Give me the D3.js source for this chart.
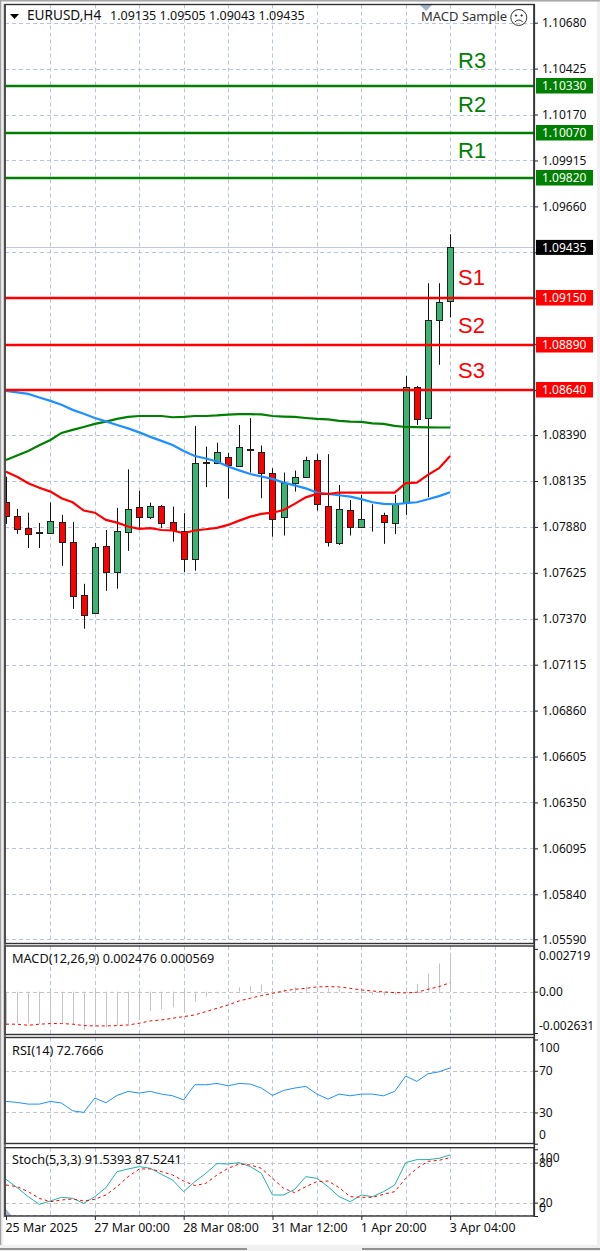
<!DOCTYPE html>
<html><head><meta charset="utf-8">
<script src="https://cdn.jsdelivr.net/npm/d3@7/dist/d3.min.js"></script>
<style>
html,body{margin:0;padding:0;background:#f0f0f0;overflow:hidden}
svg{display:block}
text{font-family:"Noto Sans",sans-serif;font-size:12px;fill:#111}
</style></head><body>
<script>
const opens=[1.08021,1.07943,1.07875,1.07852,1.07848,1.07906,1.07797,1.07504,1.07401,1.07775,1.07632,1.07856,1.07989,1.07934,1.07997,1.07906,1.07858,1.07704,1.08237,1.08239,1.08267,1.08219,1.08310,1.08298,1.08182,1.07934,1.08123,1.08158,1.08252,1.07997,1.07795,1.07974,1.07882,1.07940,1.07945,1.07904,1.08017,1.08659,1.08484,1.09030,1.09135];
const highs=[1.08159,1.07980,1.07959,1.07902,1.08015,1.07947,1.07908,1.07564,1.07791,1.07863,1.07986,1.08200,1.08080,1.08015,1.08002,1.07993,1.07956,1.08441,1.08326,1.08348,1.08291,1.08446,1.08484,1.08332,1.08206,1.08182,1.08193,1.08270,1.08284,1.08284,1.08113,1.08030,1.08058,1.08006,1.07959,1.08058,1.08719,1.08663,1.09233,1.09233,1.09505];
const lows=[1.07897,1.07841,1.07763,1.07763,1.07841,1.07664,1.07425,1.07315,1.07397,1.07525,1.07537,1.07747,1.07875,1.07923,1.07875,1.07798,1.07630,1.07637,1.08101,1.08235,1.08037,1.08219,1.08182,1.08039,1.07826,1.07832,1.08076,1.08156,1.07971,1.07771,1.07780,1.07832,1.07878,1.07854,1.07786,1.07840,1.07947,1.08446,1.08045,1.08780,1.09043];
const closes=[1.07943,1.07873,1.07841,1.07849,1.07913,1.07795,1.07497,1.07395,1.07767,1.07632,1.07860,1.07982,1.07934,1.07997,1.07904,1.07863,1.07704,1.08237,1.08241,1.08298,1.08220,1.08323,1.08313,1.08182,1.07928,1.08123,1.08159,1.08252,1.08006,1.07795,1.07982,1.07882,1.07926,1.07942,1.07904,1.08008,1.08659,1.08481,1.09030,1.09131,1.09435];
const maGreen=[1.08252,1.08277,1.08302,1.08333,1.08363,1.08402,1.08419,1.08435,1.08452,1.08465,1.08480,1.08491,1.08496,1.08496,1.08496,1.08489,1.08491,1.08496,1.08496,1.08499,1.08504,1.08506,1.08506,1.08505,1.08496,1.08493,1.08491,1.08485,1.08480,1.08477,1.08469,1.08465,1.08463,1.08455,1.08452,1.08441,1.08435,1.08434,1.08433,1.08432,1.08432];
const maBlue=[1.08635,1.08627,1.08619,1.08599,1.08580,1.08558,1.08530,1.08508,1.08485,1.08466,1.08446,1.08427,1.08405,1.08380,1.08358,1.08335,1.08302,1.08274,1.08260,1.08243,1.08215,1.08194,1.08174,1.08160,1.08147,1.08126,1.08111,1.08094,1.08071,1.08063,1.08056,1.08048,1.08034,1.08017,1.08008,1.08006,1.08012,1.08017,1.08034,1.08051,1.08073];
const maRed=[1.08187,1.08159,1.08123,1.08097,1.08076,1.08039,1.08017,1.07971,1.07959,1.07919,1.07904,1.07882,1.07869,1.07873,1.07863,1.07860,1.07845,1.07860,1.07867,1.07875,1.07891,1.07915,1.07937,1.07952,1.07959,1.07974,1.08008,1.08044,1.08063,1.08063,1.08071,1.08071,1.08071,1.08071,1.08071,1.08071,1.08123,1.08126,1.08169,1.08206,1.08274];
const macdHist=[-0.00212,-0.00201,-0.00201,-0.00205,-0.00201,-0.00197,-0.00212,-0.00243,-0.00218,-0.00226,-0.00216,-0.00207,-0.00169,-0.00123,-0.00112,-0.00099,-0.00112,-0.00063,-0.00032,-0.00011,0,0.00028,0.00036,0.00047,0.00004,0.00015,0.00028,0.00032,0.00028,0.00021,0.00015,-0.00004,-0.00011,-0.00021,-0.00025,-0.00021,0.00028,0.00049,0.00116,0.0018,0.002476];
const macdSignal=[-0.00207,-0.00207,-0.00214,-0.00207,-0.00203,-0.00203,-0.00207,-0.00216,-0.00218,-0.00218,-0.00216,-0.00212,-0.00201,-0.00186,-0.0018,-0.00169,-0.00159,-0.00148,-0.00127,-0.00106,-0.00085,-0.00059,-0.00042,-0.00025,-0.00011,0.00004,0.00015,0.00021,0.0003,0.00032,0.0003,0.00021,0.00011,0.00004,-0.00002,-0.00006,-0.00008,-0.00004,0.00015,0.00032,0.000569];
const rsiValues=[40.6,39.6,38,38,40.6,39,31.6,30,43.8,39.3,46.3,50.2,48.6,50.2,47.6,46,42,56.6,56.6,57.8,55.6,57.8,57.2,53.4,46.3,51.1,53.4,55,47.6,42.8,47.6,46,47.6,47.6,46,50.2,64.9,59.8,67.1,69,72.7666];
const stochMain=[55,42.5,29,17.5,22.5,28,26.5,19,29,42.5,66.5,70.5,74,71.5,62.5,54,36.5,51.5,64,78.5,78,80,74,64,31.5,31.5,40,59,56.5,44,29,21.5,31.5,29,36.5,46.5,80,84.5,84.5,86.5,91.5393];
const stochSignal=[46.5,44,36.5,26.5,21.5,24,25.5,22.5,25,31.5,44,59,70.5,70.5,66.5,61.5,52.5,45.5,49,61.5,71.5,78,76.5,71.5,56.5,41.5,35,44,51.5,52.5,42.5,29,28,28,32.5,36.5,56.5,71.5,82,83.5,87.5241];
const priceTicks=[1.1068,1.10425,1.1017,1.09915,1.0966,1.09405,1.0915,1.08895,1.0864,1.0839,1.08135,1.0788,1.07625,1.0737,1.07115,1.0686,1.06605,1.0635,1.06095,1.0584,1.0559];
const coveredTicks=[1.09405,1.0915,1.08895,1.0864];
const timeIndex=[0,8,16,24,32,40];
const timeLabels=["25 Mar 2025","27 Mar 00:00","28 Mar 08:00","31 Mar 12:00","1 Apr 20:00","3 Apr 04:00"];
const gridIndex=[4,8,12,16,20,24,28,32,36,40,44];
const levelNames=["R3","R2","R1","S1","S2","S3"];
const levelValues=[1.1033,1.1007,1.0982,1.0915,1.0889,1.0864];
const levelColors=["#008000","#008000","#008000","#ff0000","#ff0000","#ff0000"];
const levelLabelDy=[-17.7,-21,-20,-13,-12,-12];
const titleName="EURUSD,H4";
const titlePrices="1.09135 1.09505 1.09043 1.09435";

const W=600,H=1251,L=5,R=534;
const svg=d3.select("body").append("svg").attr("width",W).attr("height",H);
const x=d3.scaleLinear().domain([0,47.55]).range([6,534]);
const idx=d3.range(opens.length);
const panes={main:[4.5,943.5],macd:[946,1034.5],rsi:[1037.5,1143.5],stoch:[1147.7,1216]};
const y=d3.scaleLinear().domain([1.0559,1.1068]).range([939.3,22.7]);
const yMacd=d3.scaleLinear().domain([-0.002631,0.002719]).range([1033,948.9]);
const yRsi=d3.scaleLinear().domain([0,100]).range([1143.7,1039.5]);
const yStoch=d3.scaleLinear().domain([0,100]).range([1216,1149.3]);

// window chrome
svg.append("rect").attr("x",0).attr("y",0).attr("width",W).attr("height",H).attr("fill","#f0f0f0");
svg.append("rect").attr("x",1).attr("y",2).attr("width",596).attr("height",1243).attr("fill","#fff");
svg.append("rect").attr("x",0).attr("y",0).attr("width",W).attr("height",1.5).attr("fill","#a8a8a8");
svg.append("rect").attr("x",0).attr("y",0).attr("width",1.5).attr("height",1245).attr("fill","#a0a0a0");
svg.append("rect").attr("x",3.2).attr("y",4).attr("width",1).attr("height",1214).attr("fill","#b0b0b0");
svg.append("rect").attr("x",1.5).attr("y",1.5).attr("width",1.8).attr("height",1243).attr("fill","#f0f0f0");
svg.append("rect").attr("x",0).attr("y",1245).attr("width",W).attr("height",6).attr("fill","#f0f0f0");
svg.append("line").attr("x1",0).attr("x2",247).attr("y1",1249).attr("y2",1249).attr("stroke","#333");
svg.append("line").attr("x1",362).attr("x2",600).attr("y1",1249).attr("y2",1249).attr("stroke","#333");

const defs=svg.append("defs");
Object.entries(panes).forEach(([k,[t,b]])=>{
  defs.append("clipPath").attr("id","clip-"+k).append("rect").attr("x",L).attr("y",t).attr("width",R-L).attr("height",b-t);
});
function paneG(k){return svg.append("g").attr("clip-path",`url(#clip-${k})`);}
const gridBlue="#b4c6e2", gridGray="#c4c4c4";
function vGrid(g,k){
  const [t,b]=panes[k];
  g.selectAll(null).data(gridIndex).join("line").attr("x1",d=>Math.round(x(d))+.5).attr("x2",d=>Math.round(x(d))+.5)
   .attr("y1",t).attr("y2",b).attr("stroke",gridBlue).attr("stroke-dasharray","4,3");
}
function hGrid(g,vals,sc,col){
  g.selectAll(null).data(vals).join("line").attr("x1",L).attr("x2",R)
   .attr("y1",d=>Math.round(sc(d))+.5).attr("y2",d=>Math.round(sc(d))+.5)
   .attr("stroke",col).attr("stroke-dasharray","4,3");
}
const lineOf=(arr,sc)=>d3.line().x((d,i)=>x(i)).y(d=>sc(d))(arr);

// main pane
const gm=paneG("main");
vGrid(gm,"main");
hGrid(gm,priceTicks,y,gridBlue);
gm.append("line").attr("x1",L).attr("x2",R).attr("y1",Math.round(y(closes[40]))+.5).attr("y2",Math.round(y(closes[40]))+.5).attr("stroke","#c3cad6");
const isUp=i=>closes[i]>=opens[i];
gm.selectAll(".wick").data(idx).join("line").attr("class","wick")
 .attr("x1",i=>Math.round(x(i))+.5).attr("x2",i=>Math.round(x(i))+.5)
 .attr("y1",i=>y(highs[i])).attr("y2",i=>y(lows[i])).attr("stroke","#111").attr("stroke-width",1);
gm.selectAll(".body").data(idx).join("rect").attr("class","body")
 .attr("x",i=>Math.round(x(i))-2.5).attr("width",6)
 .attr("y",i=>Math.round(Math.min(y(opens[i]),y(closes[i])))+.5)
 .attr("height",i=>Math.round(Math.abs(y(opens[i])-y(closes[i]))))
 .attr("fill",i=>isUp(i)?"#3cb371":"#ff0000").attr("stroke","#222").attr("stroke-width",1);
[[maGreen,"#008000"],[maBlue,"#1e90ff"],[maRed,"#ff0000"]].forEach(([a,c])=>{
  gm.append("path").attr("d",lineOf(a,y)).attr("fill","none").attr("stroke",c).attr("stroke-width",2.2);
});
gm.selectAll(".lvl").data(levelValues).join("line").attr("class","lvl")
 .attr("x1",L).attr("x2",R).attr("y1",d=>Math.round(y(d))).attr("y2",d=>Math.round(y(d)))
 .attr("stroke",(d,i)=>levelColors[i]).attr("stroke-width",2.4);
gm.append("path").attr("d",d3.line()([[420,5],[432,5],[426,11]])+"Z").attr("fill","#a3b3cc");

// macd
const gd=paneG("macd");
vGrid(gd,"macd");
hGrid(gd,[0],yMacd,gridGray);
gd.selectAll(".h").data(macdHist).join("line").attr("class","h")
 .attr("x1",(d,i)=>Math.round(x(i))+.5).attr("x2",(d,i)=>Math.round(x(i))+.5)
 .attr("y1",yMacd(0)).attr("y2",d=>yMacd(d)).attr("stroke","#c4c4c4");
gd.append("path").attr("d",lineOf(macdSignal,yMacd)).attr("fill","none").attr("stroke","#ff0000").attr("stroke-dasharray","3,3");

// rsi
const gr=paneG("rsi");
vGrid(gr,"rsi");
hGrid(gr,[30,70],yRsi,gridGray);
gr.append("path").attr("d",lineOf(rsiValues,yRsi)).attr("fill","none").attr("stroke","#1e90ff");

// stoch
const gs=paneG("stoch");
vGrid(gs,"stoch");
hGrid(gs,[20,80],yStoch,gridGray);
gs.append("line").attr("x1",L).attr("x2",R).attr("y1",1215.5).attr("y2",1215.5).attr("stroke",gridBlue).attr("stroke-dasharray","4,3");
gs.append("path").attr("d",lineOf(stochMain,yStoch)).attr("fill","none").attr("stroke","#20b2aa");
gs.append("path").attr("d",lineOf(stochSignal,yStoch)).attr("fill","none").attr("stroke","#ff0000").attr("stroke-dasharray","3,3");
gs.append("path").attr("d",d3.line()([[5,1208],[5,1216],[12,1216]])+"Z").attr("fill","#a3b3cc");

// frames
Object.values(panes).forEach(([t,b])=>{
  svg.append("rect").attr("x",L).attr("y",t).attr("width",R-L).attr("height",b-t).attr("fill","none").attr("stroke","#333").attr("stroke-width",1.4);
});
svg.append("line").attr("x1",R+.3).attr("x2",R+.3).attr("y1",4).attr("y2",1217).attr("stroke","#333").attr("stroke-width",1.6);
svg.append("line").attr("x1",L).attr("x2",L).attr("y1",4).attr("y2",1217).attr("stroke","#444").attr("stroke-width",1.4);

// axes
function styleAxis(g){g.select(".domain").remove();g.selectAll(".tick line").attr("stroke","#222");g.selectAll("text").attr("fill","#111").style("font-size","12px").style("font-family",'"Noto Sans",sans-serif');}
svg.append("g").attr("transform",`translate(${R+1},0)`)
 .call(d3.axisRight(y).tickValues(priceTicks).tickFormat(d=>coveredTicks.includes(d)?"":d3.format(".5f")(d)).tickSize(3).tickPadding(4)).call(styleAxis);
function offset(g,vals,offs){g.selectAll(".tick text").attr("dy",(d)=>{const k=vals.indexOf(d);return (offs[k]+4)+"px";});}
const macdTicks=[0.002719,0,-0.002631];
svg.append("g").attr("transform",`translate(${R+1},0)`)
 .call(d3.axisRight(yMacd).tickValues(macdTicks).tickFormat(d=>d===0?"0.00":d3.format(".6f")(d).replace("−","-")).tickSize(3).tickPadding(1)).call(styleAxis)
 .call(g=>offset(g,macdTicks,[7,0,-7.5]));
const rsiTicks=[100,70,30,0];
svg.append("g").attr("transform",`translate(${R+1},0)`)
 .call(d3.axisRight(yRsi).tickValues(rsiTicks).tickSize(3).tickPadding(1)).call(styleAxis)
 .call(g=>offset(g,rsiTicks,[8,0,0,-9]));
const stochTicks=[100,80,20,0];
svg.append("g").attr("transform",`translate(${R+1},0)`)
 .call(d3.axisRight(yStoch).tickValues(stochTicks).tickSize(3).tickPadding(1)).call(styleAxis)
 .call(g=>offset(g,stochTicks,[8,0,0,-9]));
svg.append("g").attr("transform","translate(0,1216)")
 .call(d3.axisBottom(x).tickValues(timeIndex).tickFormat((d,i)=>timeLabels[i]).tickSize(4).tickPadding(3)).call(styleAxis)
 .call(g=>g.selectAll(".tick line").attr("x1",0).attr("x2",0))
 .call(g=>g.selectAll(".tick text").attr("text-anchor","start").attr("dx","-1px").style("font-size","12.4px"));

// level tags
levelValues.forEach((v,i)=>{
  const c=levelColors[i], yy=Math.round(y(v));
  svg.append("rect").attr("x",536).attr("y",yy-8).attr("width",57).attr("height",15.5).attr("fill",c);
  svg.append("text").attr("x",542).attr("y",yy+4).style("fill","#fff").text(d3.format(".5f")(v));
  svg.append("text").attr("x",458).attr("y",yy+levelLabelDy[i]).style("font-size","22px").style("font-family","'Liberation Sans',sans-serif").style("fill",c).text(levelNames[i]);
});
const py=y(closes[40]);
svg.append("rect").attr("x",536).attr("y",py-7).attr("width",57).attr("height",15).attr("fill","#000");
svg.append("text").attr("x",542).attr("y",py+5).style("fill","#fff").text(d3.format(".5f")(closes[40]));

// titles
svg.append("path").attr("d",d3.line()([[10,14],[19,14],[14.5,19]])+"Z").attr("fill","#000");
svg.append("text").attr("x",27).attr("y",20).style("font-size","13.6px").text(titleName);
svg.append("text").attr("x",110).attr("y",20).style("font-size","12.5px").text(titlePrices);
svg.append("text").attr("x",421).attr("y",21).style("font-size","13px").style("fill","#333").text("MACD Sample");
const f=svg.append("g").attr("transform","translate(518.8,17.5)").attr("fill","none").attr("stroke","#333");
f.append("circle").attr("r",8);
f.append("path").attr("d","M-4,4.5 Q0,0.5 4,4.5");
f.append("circle").attr("cx",-2.8).attr("cy",-2).attr("r",.7).attr("fill","#333");
f.append("circle").attr("cx",2.8).attr("cy",-2).attr("r",.7).attr("fill","#333");
svg.append("text").attr("x",12).attr("y",963).style("font-size","12.7px").text("MACD(12,26,9) 0.002476 0.000569");
svg.append("text").attr("x",12).attr("y",1055).style("font-size","12.7px").text("RSI(14) 72.7666");
svg.append("text").attr("x",12).attr("y",1164).style("font-size","12.7px").text("Stoch(5,3,3) 91.5393 87.5241");
</script>
</body></html>
